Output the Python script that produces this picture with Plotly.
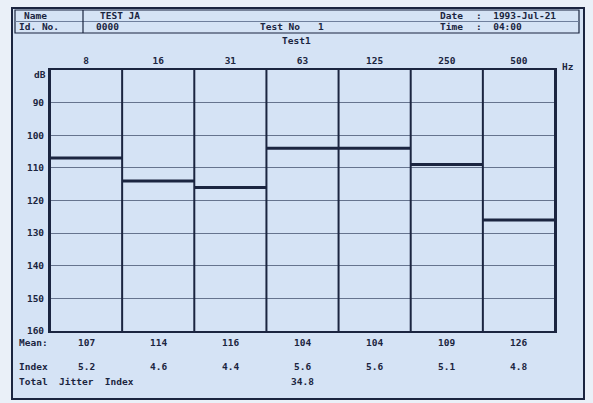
import plotly.graph_objects as go

# ---- data ----
freqs = ["8", "16", "31", "63", "125", "250", "500"]
mean_db = [107, 114, 116, 104, 104, 109, 126]
jitter_index = [5.2, 4.6, 4.4, 5.6, 5.6, 5.1, 4.8]
total_jitter = 34.8
y_ticks = [90, 100, 110, 120, 130, 140, 150, 160]
header = {"name": "TEST JA", "id": "0000", "test_no": "1",
          "date": "1993-Jul-21", "time": "04:00", "title": "Test1"}

W, H = 593, 403
L, R, T, B = 50, 555, 70, 331
INK = "#1b2540"
BG = "#d5e3f5"
FONT = "DejaVu Sans Mono"


def px(x):
    return (x - L) / (R - L)


def py(y):
    return (B - y) / (B - T)


n = len(freqs)
xs, ys = [], []
for i, m in enumerate(mean_db):
    xs += [i, i + 1, None]
    ys += [m, m, None]

fig = go.Figure()
fig.add_trace(go.Scatter(x=xs, y=ys, mode="lines",
                         line=dict(color=INK, width=3), hoverinfo="skip",
                         showlegend=False))

shapes = []
# outer frame
shapes.append(dict(type="rect", xref="paper", yref="paper",
                   x0=px(12), x1=px(584), y0=py(399), y1=py(8),
                   line=dict(color=INK, width=2), fillcolor=BG, layer="below"))
# header box
shapes.append(dict(type="rect", xref="paper", yref="paper",
                   x0=px(15), x1=px(579), y0=py(33), y1=py(10),
                   line=dict(color=INK, width=1.2)))
shapes.append(dict(type="line", xref="paper", yref="paper",
                   x0=px(15), x1=px(579), y0=py(21.5), y1=py(21.5),
                   line=dict(color="#6f7f9c", width=1)))
shapes.append(dict(type="line", xref="paper", yref="paper",
                   x0=px(83), x1=px(83), y0=py(33), y1=py(10),
                   line=dict(color=INK, width=1.2)))
# column separators
for i in range(n + 1):
    shapes.append(dict(type="line", xref="x", yref="paper",
                       x0=i, x1=i, y0=0, y1=1,
                       line=dict(color=INK, width=2)))

annotations = []


def txt(s, x, y, anchor="left", size=9.5, xref="paper"):
    annotations.append(dict(text=s, x=x, y=py(y), xref=xref, yref="paper",
                            xanchor=anchor, yanchor="middle", showarrow=False,
                            font=dict(family=FONT, size=size, color=INK)))


txt("<b>Name</b>", px(22), 15)
txt("<b>" + header["name"] + "</b>", px(98), 15)
txt("<b>Id. No.</b>", px(17), 27)
txt("<b>" + header["id"] + "</b>", px(94), 27)
txt("<b>Test No</b>", px(258), 27)
txt("<b>" + header["test_no"] + "</b>", px(316), 27)
txt("<b>Date</b>", px(438), 15)
txt("<b>:  " + header["date"] + "</b>", px(474), 15)
txt("<b>Time</b>", px(438), 27)
txt("<b>:  " + header["time"] + "</b>", px(474), 27)
txt("<b>" + header["title"] + "</b>", px(296), 41, anchor="center")
txt("<b>Hz</b>", px(560), 66)
txt("<b>dB</b>", px(48), 74, anchor="right")

txt("<b>Mean:</b>", px(17), 342)
txt("<b>Index</b>", px(17), 366)
txt("<b>Total  Jitter  Index</b>", px(17), 381)
for i in range(n):
    txt("<b>%d</b>" % mean_db[i], i + 0.5, 342, anchor="center", xref="x")
    txt("<b>%.1f</b>" % jitter_index[i], i + 0.5, 366, anchor="center", xref="x")
txt("<b>%.1f</b>" % total_jitter, 3.5, 381, anchor="center", xref="x")

fig.update_layout(
    width=W, height=H,
    margin=dict(l=L, r=W - R, t=T, b=H - B),
    paper_bgcolor="#eaf0f8", plot_bgcolor=BG,
    shapes=shapes, annotations=annotations,
    xaxis=dict(range=[0, n], side="top", tickvals=[i + 0.5 for i in range(n)],
               ticktext=["<b>%s</b>" % f for f in freqs], showgrid=False,
               zeroline=False, showline=True, linecolor=INK, linewidth=2,
               mirror=True, ticks="", ticklabelstandoff=0,
               tickfont=dict(family=FONT, size=9.5, color=INK), fixedrange=True),
    yaxis=dict(range=[160, 80], tickvals=y_ticks,
               ticktext=["<b>%d</b>" % v for v in y_ticks],
               showgrid=True, gridcolor="#66748e", gridwidth=1.1,
               zeroline=False, showline=True, linecolor=INK, linewidth=2,
               mirror=True, ticks="", ticklabelstandoff=2,
               tickfont=dict(family=FONT, size=9.5, color=INK), fixedrange=True),
    showlegend=False,
)

fig.write_html("out.html", config={"displayModeBar": False},
               post_script="document.body.style.margin='0';document.body.style.overflow='hidden';")
